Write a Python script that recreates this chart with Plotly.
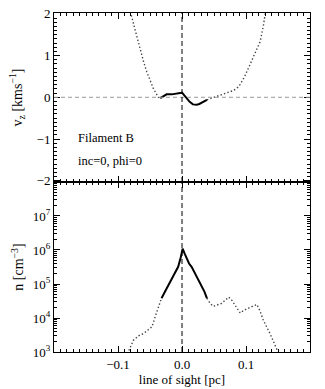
import plotly.graph_objects as go
from plotly.subplots import make_subplots

# line of sight [pc] and v_z [km/s], split into dotted / solid pieces
vz_los_left = [-0.085, -0.080, -0.073, -0.066, -0.060, -0.055, -0.050, -0.045, -0.040, -0.037, -0.034]
vz_left = [2.3, 2.0, 1.6, 1.17, 0.85, 0.61, 0.40, 0.22, 0.08, 0.0, -0.02]

vz_los_mid = [-0.034, -0.029, -0.024, -0.016, -0.008, -0.003, 0.0, 0.004, 0.007, 0.012, 0.017,
              0.023, 0.027, 0.031, 0.035, 0.039]
vz_mid = [-0.02, 0.02, 0.07, 0.07, 0.08, 0.10, 0.11, 0.04, -0.03, -0.11, -0.17,
          -0.18, -0.16, -0.13, -0.09, -0.06]

vz_los_right = [0.039, 0.046, 0.054, 0.067, 0.080, 0.086, 0.091, 0.098, 0.106, 0.114, 0.122,
                0.127, 0.130, 0.133]
vz_right = [-0.06, -0.02, 0.02, 0.09, 0.16, 0.22, 0.31, 0.50, 0.78, 1.05, 1.33,
            1.7, 2.0, 2.3]

# density n [cm^-3]
n_los_left = [-0.086, -0.084, -0.076, -0.068, -0.060, -0.047, -0.040, -0.032]
n_left = [9e2, 1.0e3, 2.2e3, 3.0e3, 3.5e3, 5.5e3, 1.4e4, 3.8e4]

n_los_mid = [-0.032, -0.028, -0.024, -0.019, -0.014, -0.010, -0.006, -0.002, 0.001, 0.004,
             0.007, 0.011, 0.015, 0.019, 0.023, 0.027, 0.031, 0.035, 0.039]
n_mid = [3.8e4, 5.5e4, 7.4e4, 1.1e5, 1.66e5, 2.2e5, 3.2e5, 6e5, 1.1e6, 8e5,
         5.6e5, 4e5, 3.2e5, 2.3e5, 1.66e5, 1.1e5, 8.3e4, 6e4, 3.8e4]

n_los_right = [0.039, 0.044, 0.049, 0.056, 0.062, 0.068, 0.073, 0.078, 0.084, 0.091, 0.097,
               0.104, 0.110, 0.117, 0.122, 0.127, 0.1375, 0.150, 0.152]
n_right = [3.8e4, 2.7e4, 2.2e4, 2.4e4, 2.7e4, 3.4e4, 4.1e4, 3.3e4, 2.2e4, 1.4e4, 1.7e4,
           1.9e4, 2.2e4, 2.5e4, 1.6e4, 8.7e3, 3.5e3, 1.0e3, 8e2]

x_ticks = [-0.1, 0.0, 0.1]
vz_ticks = [-2, -1, 0, 1, 2]
n_ticks = [1e3, 1e4, 1e5, 1e6, 1e7]
n_ticktext = ["10<sup>3</sup>", "10<sup>4</sup>", "10<sup>5</sup>", "10<sup>6</sup>", "10<sup>7</sup>"]

FONT = "Liberation Serif"
DOT = dict(color="#444444", width=1.4, dash="1.4px,2.2px")
SOLID = dict(color="black", width=2)

fig = make_subplots(rows=2, cols=1, shared_xaxes=True, vertical_spacing=0)

for xs, ys, ln in [(vz_los_left, vz_left, DOT), (vz_los_mid, vz_mid, SOLID), (vz_los_right, vz_right, DOT)]:
    fig.add_trace(go.Scatter(x=xs, y=ys, mode="lines", line=ln, showlegend=False), row=1, col=1)
for xs, ys, ln in [(n_los_left, n_left, DOT), (n_los_mid, n_mid, SOLID), (n_los_right, n_right, DOT)]:
    fig.add_trace(go.Scatter(x=xs, y=ys, mode="lines", line=ln, showlegend=False), row=2, col=1)

axis_common = dict(showline=True, linecolor="black", linewidth=1, mirror="allticks",
                   ticks="inside", ticklen=6, tickcolor="black", showgrid=False, zeroline=False,
                   automargin=False,
                   tickfont=dict(family=FONT, size=13, color="black"))

# log minor tick positions
n_minor = [k * 10 ** d for d in range(3, 8) for k in range(2, 10)]

fig.update_layout(
    width=325, height=389,
    margin=dict(l=54, r=15, t=13, b=37),
    paper_bgcolor="white", plot_bgcolor="white",
    font=dict(family=FONT, size=13, color="black"),
    xaxis=dict(axis_common, range=[-0.2, 0.2], tickvals=x_ticks, showticklabels=False,
               minor=dict(ticks="inside", ticklen=3, dtick=0.01, tick0=0, tickcolor="black")),
    xaxis2=dict(axis_common, range=[-0.2, 0.2], tickvals=x_ticks, tickformat=".1f",
                minor=dict(ticks="inside", ticklen=3, dtick=0.01, tick0=0, tickcolor="black"),
                title=dict(text="line of sight [pc]", font=dict(family=FONT, size=13), standoff=3)),
    yaxis=dict(axis_common, domain=[0.5015, 1], range=[-2.03, 2.02], tickvals=vz_ticks,
               minor=dict(ticks="inside", ticklen=3, dtick=0.1, tick0=0, tickcolor="black"),
               title=dict(text="v<sub>z</sub> [kms<sup>\u22121</sup>]", font=dict(family=FONT, size=14), standoff=10)),
    yaxis2=dict(axis_common, type="log", domain=[0, 0.5015], range=[3, 8], tickvals=n_ticks,
                ticktext=n_ticktext,
                minor=dict(ticks="inside", ticklen=3, tickvals=n_minor, tickcolor="black"),
                title=dict(text="n [cm<sup>\u22123</sup>]", font=dict(family=FONT, size=14), standoff=5)),
)

fig.add_shape(type="line", xref="x", yref="y", x0=-0.2, x1=0.2, y0=0, y1=0,
              line=dict(color="#999999", width=1, dash="4px,3px"))
fig.add_shape(type="line", xref="x", yref="y domain", x0=0, x1=0, y0=0, y1=1,
              line=dict(color="black", width=1, dash="5px,3px"))
fig.add_shape(type="line", xref="x2", yref="y2 domain", x0=0, x1=0, y0=0, y1=1,
              line=dict(color="black", width=1, dash="5px,3px"))

fig.add_annotation(xref="x", yref="y", x=-0.165, y=-0.98, text="Filament B", showarrow=False,
                   xanchor="left", font=dict(family=FONT, size=12.5))
fig.add_annotation(xref="x", yref="y", x=-0.165, y=-1.52, text="inc=0, phi=0", showarrow=False,
                   xanchor="left", font=dict(family=FONT, size=12.5))

# the page body has a default 8px margin; drop it so the figure sits at the window corner
fig.write_html("out.html", config={"displayModeBar": False},
               post_script="document.body.style.margin='0';")
